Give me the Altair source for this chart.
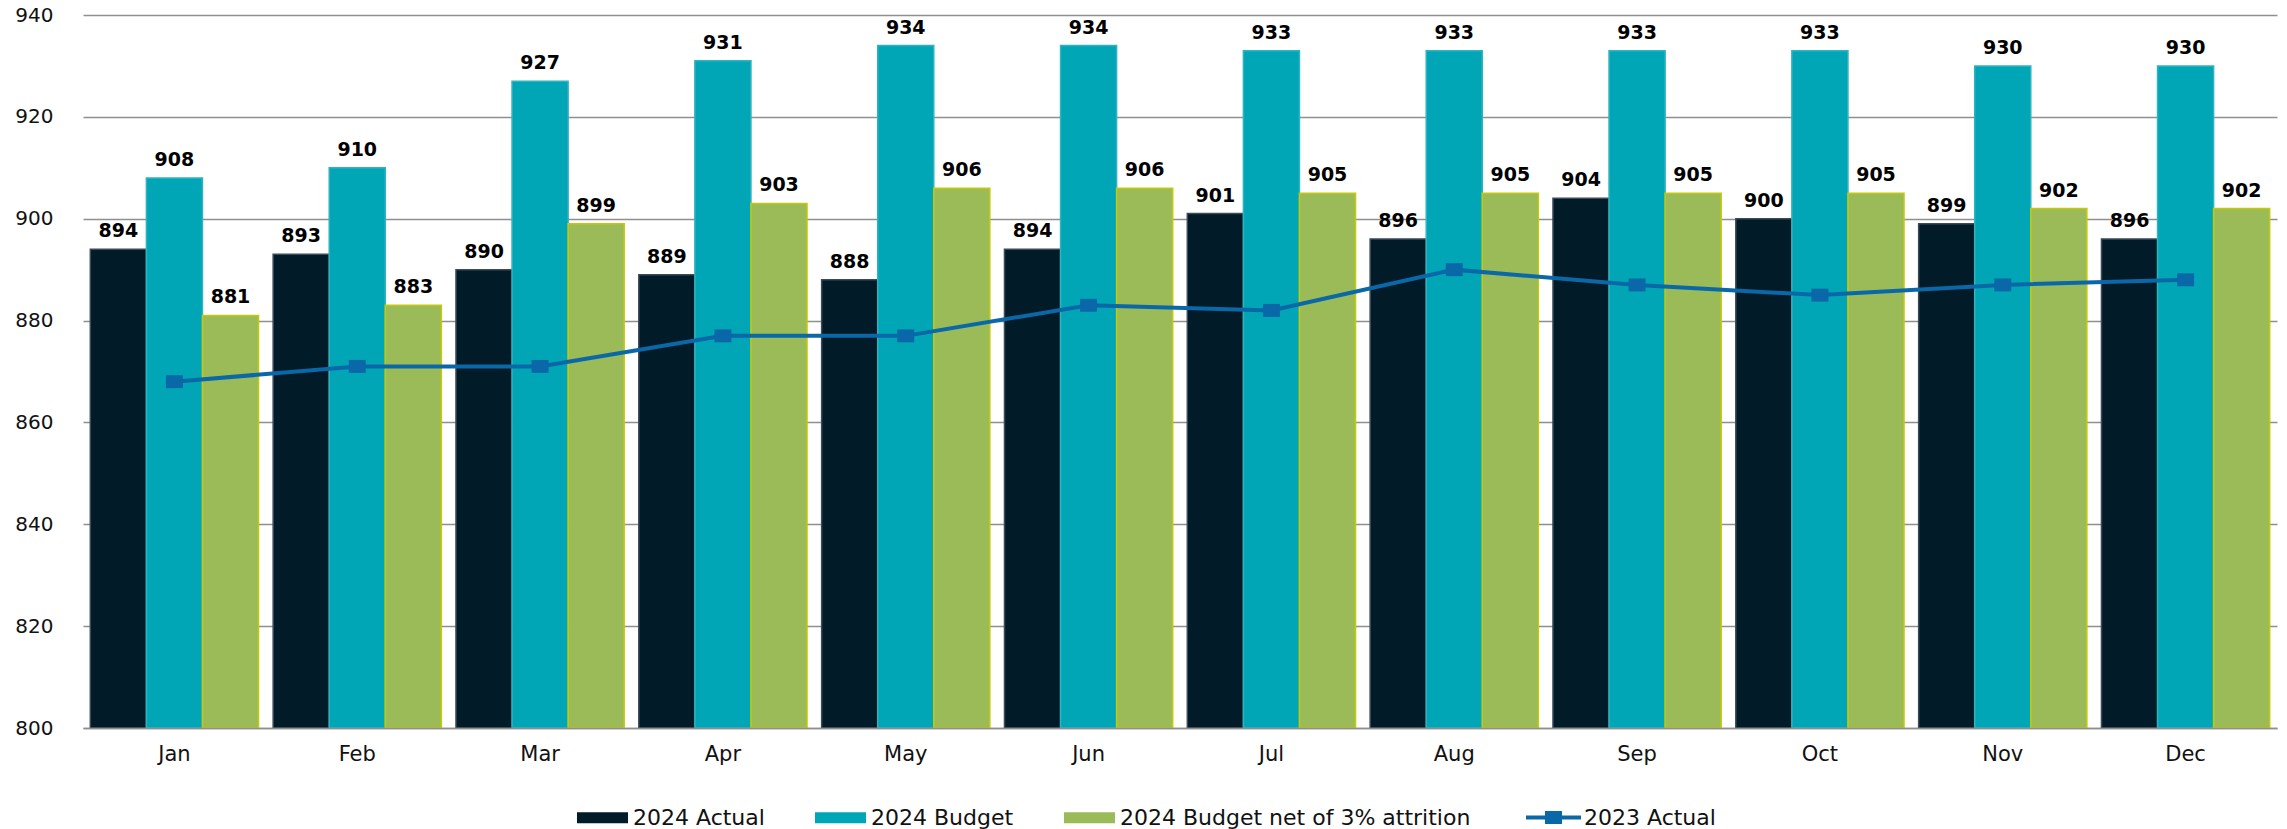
import altair as alt
import pandas as pd

# ---- data ----
months = ["Jan", "Feb", "Mar", "Apr", "May", "Jun", "Jul", "Aug", "Sep", "Oct", "Nov", "Dec"]
actual_2024 = [894, 893, 890, 889, 888, 894, 901, 896, 904, 900, 899, 896]
budget_2024 = [908, 910, 927, 931, 934, 934, 933, 933, 933, 933, 930, 930]
budget_net_2024 = [881, 883, 899, 903, 906, 906, 905, 905, 905, 905, 902, 902]
actual_2023 = [868, 871, 871, 877, 877, 883, 882, 890, 887, 885, 887, 888]

bar_series = ["2024 Actual", "2024 Budget", "2024 Budget net of 3% attrition"]
line_series = "2023 Actual"
y_ticks = [800, 820, 840, 860, 880, 900, 920, 940]
y_min, y_max = 800, 940

# ---- styles ----
bar_colors = ["#021b28", "#00a6b6", "#9bbb59"]
bar_strokes = ["#3b4b57", "#2fb3c1", "#c4c90a"]
line_color = "#0a68a8"
grid_color = "#8f8f8f"
FONT = "DejaVu Sans"

rows = []
for name, vals in zip(bar_series, [actual_2024, budget_2024, budget_net_2024]):
    for m, v in zip(months, vals):
        rows.append({"month": m, "series": name, "value": v})
bars_df = pd.DataFrame(rows)
line_df = pd.DataFrame({"month": months, "series": [line_series] * len(months), "value": actual_2023})

x_enc = alt.X(
    "month:N", sort=months,
    scale=alt.Scale(paddingInner=0.08, paddingOuter=0.04),
    axis=alt.Axis(title=None, labelAngle=0, ticks=False, labelPadding=15,
                  labelFont=FONT, labelFontSize=21, labelColor="#111111",
                  domainColor=grid_color, domainWidth=1.5, grid=False, zindex=1),
)
y_enc = alt.Y(
    "value:Q",
    scale=alt.Scale(domain=[y_min, y_max], nice=False, zero=False),
    axis=alt.Axis(title=None, values=y_ticks, ticks=False, domain=False, labelPadding=30,
                  labelFont=FONT, labelFontSize=20, labelColor="#111111",
                  grid=True, gridColor=grid_color, gridWidth=1.5),
)
xoff = alt.XOffset("series:N", sort=bar_series, scale=alt.Scale(domain=bar_series, paddingInner=0, paddingOuter=0))

rect_path = "M-1,-0.22L1,-0.22L1,0.22L-1,0.22Z"
marker_path = "M-1,-0.76L1,-0.76L1,0.76L-1,0.76Z"
line_legend_path = ("M-1,-0.075L-0.31,-0.075L-0.31,-0.236L0.31,-0.236L0.31,-0.075L1,-0.075"
                    "L1,0.075L0.31,0.075L0.31,0.236L-0.31,0.236L-0.31,0.075L-1,0.075Z")

bars = alt.Chart(bars_df).mark_bar(strokeWidth=1.5).encode(
    x=x_enc,
    xOffset=xoff,
    y=y_enc,
    y2=alt.datum(y_min),
    color=alt.Color(
        "series:N", sort=bar_series,
        scale=alt.Scale(domain=bar_series, range=bar_colors),
        legend=alt.Legend(title=None, orient="none", direction="horizontal",
                          legendX=494, legendY=777, padding=0,
                          symbolType=rect_path, symbolSize=2601, symbolStrokeWidth=0,
                          labelFont=FONT, labelFontSize=22, labelColor="#111111",
                          labelOffset=5, labelLimit=600, columnPadding=50),
    ),
    stroke=alt.Stroke("series:N", sort=bar_series,
                      scale=alt.Scale(domain=bar_series, range=bar_strokes), legend=None),
)

labels = alt.Chart(bars_df).mark_text(
    dy=-12, baseline="alphabetic", align="center",
    font=FONT, fontSize=19, fontWeight="bold", color="#000000",
).encode(
    x=alt.X("month:N", sort=months),
    xOffset=xoff,
    y=alt.Y("value:Q"),
    text=alt.Text("value:Q"),
)

line = alt.Chart(line_df).mark_line(color=line_color, strokeWidth=4).encode(
    x=alt.X("month:N", sort=months),
    y=alt.Y("value:Q"),
)

points = alt.Chart(line_df).mark_point(
    filled=True, shape=marker_path, size=289, opacity=1, strokeWidth=0,
).encode(
    x=alt.X("month:N", sort=months),
    y=alt.Y("value:Q"),
    fill=alt.Fill(
        "series:N",
        scale=alt.Scale(domain=[line_series], range=[line_color]),
        legend=alt.Legend(title=None, orient="none", direction="horizontal",
                          legendX=1443, legendY=775, padding=0,
                          symbolType=line_legend_path, symbolSize=3025, symbolStrokeWidth=0,
                          symbolFillColor=line_color, symbolOpacity=1,
                          labelFont=FONT, labelFontSize=22, labelColor="#111111",
                          labelOffset=3, labelLimit=600),
    ),
)

chart = alt.layer(bars, labels, line, points).properties(
    width=2194, height=713,
    autosize=alt.AutoSizeParams(type="none"),
    padding={"left": 83, "top": 15, "right": 10, "bottom": 101},
    background="white",
).configure_view(stroke=None)

chart.save("out.html", embed_options={"renderer": "svg", "actions": False})
